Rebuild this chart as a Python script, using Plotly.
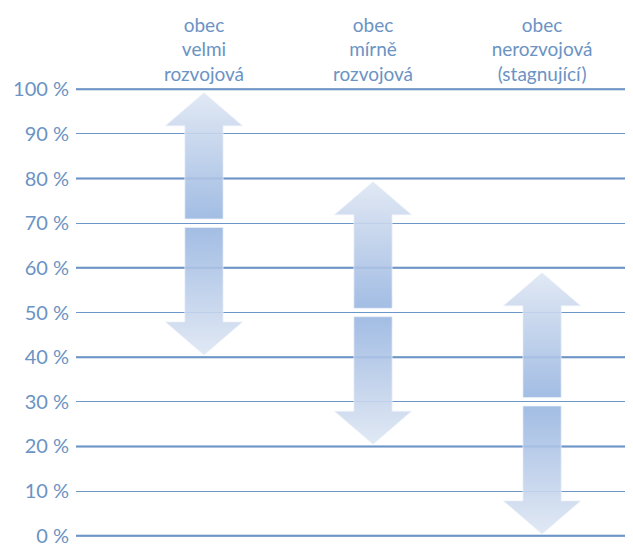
import plotly.graph_objects as go

# ---- data ----
categories = ["obec<br>velmi<br>rozvojová",
              "obec<br>mírně<br>rozvojová",
              "obec<br>nerozvojová<br>(stagnující)"]
arrow_mid = [70, 50, 30]        # centre of each double arrow (%)
arrow_top = [99.2, 79.3, 58.9]  # tip of the upward arrow (%)
arrow_bottom = [40.5, 20.5, 0.4]  # tip of the downward arrow (%)
y_ticks = [0, 10, 20, 30, 40, 50, 60, 70, 80, 90, 100]
y_tick_labels = [f"{v} %" for v in y_ticks]

# ---- style ----
TEXT = "#6B93C4"
GRID = "#6C95C8"
GRID_BOLD = "#5A84BB"
DARK = "rgba(150,180,224,0.88)"
MID = "rgba(205,218,238,0.9)"
LIGHT = "rgba(222,231,244,0.92)"
FONT = "Lato"
shaft_hw = 0.113   # half width of the shaft (x units)
head_hw = 0.228    # half width of the head (x units)
head_len = 7.4     # head length (y units)
half_gap = 0.95    # half of the gap between the two arrows (y units)

fig = go.Figure()

for i, cat in enumerate(categories):
    x = i
    m, t, b = arrow_mid[i], arrow_top[i], arrow_bottom[i]
    # upward arrow
    ys = m + half_gap
    hb = t - head_len
    fig.add_trace(go.Scatter(
        x=[x - shaft_hw, x + shaft_hw, x + shaft_hw, x + head_hw, x, x - head_hw, x - shaft_hw, x - shaft_hw],
        y=[ys, ys, hb, hb, t, hb, hb, ys],
        mode="lines", fill="toself",
        line=dict(color="rgba(235,241,250,0.7)", width=1),
        fillgradient=dict(type="vertical", start=ys, stop=t,
                          colorscale=[[0, DARK], [0.75, MID], [1, LIGHT]]),
        hoverinfo="skip", showlegend=False))
    # downward arrow
    ye = m - half_gap
    hb2 = b + head_len
    fig.add_trace(go.Scatter(
        x=[x - shaft_hw, x + shaft_hw, x + shaft_hw, x + head_hw, x, x - head_hw, x - shaft_hw, x - shaft_hw],
        y=[ye, ye, hb2, hb2, b, hb2, hb2, ye],
        mode="lines", fill="toself",
        line=dict(color="rgba(235,241,250,0.7)", width=1),
        fillgradient=dict(type="vertical", start=b, stop=ye,
                          colorscale=[[0, LIGHT], [0.25, MID], [1, DARK]]),
        hoverinfo="skip", showlegend=False))

# bolder grid lines at every second tick
for v in y_ticks[::2]:
    fig.add_shape(type="line", xref="paper", x0=0, x1=1, yref="y", y0=v, y1=v,
                  line=dict(color=GRID_BOLD, width=2), layer="below")

fig.update_layout(
    width=633, height=544,
    margin=dict(l=68, r=8, t=79, b=14),
    paper_bgcolor="white", plot_bgcolor="white",
    font=dict(family=FONT, color=TEXT, size=20),
    xaxis=dict(range=[-0.757, 2.538], side="top", tickmode="array",
               tickvals=list(range(len(categories))), ticktext=categories,
               showgrid=False, zeroline=False, showline=False, ticks="",
               automargin=False, ticklabelstandoff=1,
               tickfont=dict(size=19, color=TEXT), fixedrange=True),
    yaxis=dict(range=[-0.5, 100.5], tickmode="array", tickvals=y_ticks,
               ticktext=y_tick_labels, showgrid=True, gridcolor=GRID,
               gridwidth=1, zeroline=False, showline=False, ticks="",
               ticklabelstandoff=6, automargin=False,
               tickfont=dict(size=20, color=TEXT), fixedrange=True),
)

fig.write_html("out.html")
